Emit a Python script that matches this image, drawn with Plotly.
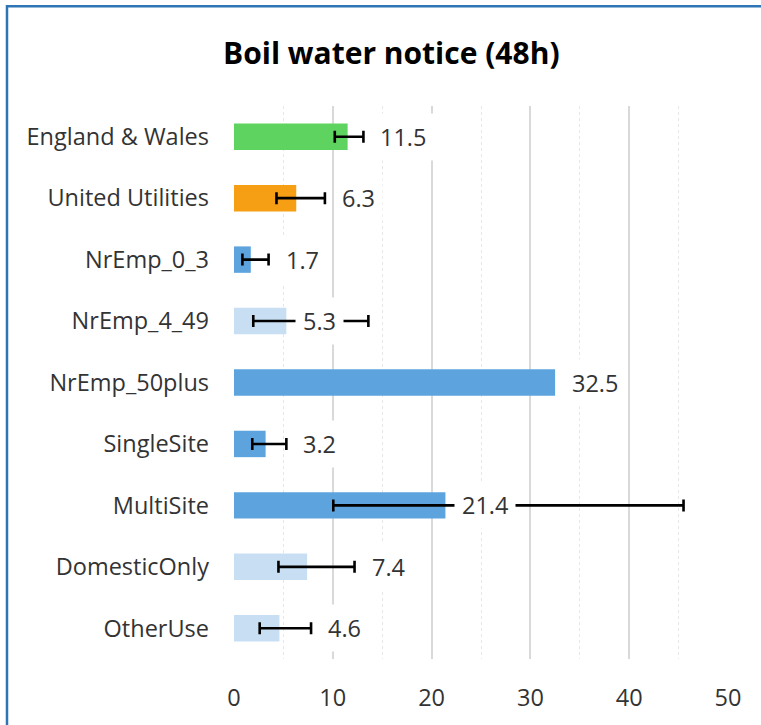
import plotly.graph_objects as go

categories = ["England & Wales", "United Utilities", "NrEmp_0_3", "NrEmp_4_49",
              "NrEmp_50plus", "SingleSite", "MultiSite", "DomesticOnly", "OtherUse"]
values = [11.5, 6.3, 1.7, 5.3, 32.5, 3.2, 21.4, 7.4, 4.6]
ci_lower = [10.2, 4.3, 0.85, 1.95, None, 1.85, 10.05, 4.5, 2.6]
ci_upper = [13.1, 9.2, 3.5, 13.6, None, 5.3, 45.5, 12.2, 7.8]
bar_colors = ["#5ED35F", "#F69E14", "#5DA4DE", "#C8DFF3", "#5DA4DE",
              "#5DA4DE", "#5DA4DE", "#C8DFF3", "#C8DFF3"]
x_ticks = [0, 10, 20, 30, 40, 50]

W, H = 761, 725
ML, MR, MT, MB = 234, 33, 106, 64
FONT = "Open Sans"
TXT = "#333333"
FS = 23.5

has_ci = [l is not None for l in ci_lower]

fig = go.Figure()
# bars with confidence intervals
idx_ci = [i for i, h in enumerate(has_ci) if h]
fig.add_trace(go.Bar(
    x=[values[i] for i in idx_ci], y=[categories[i] for i in idx_ci], orientation="h",
    marker=dict(color=[bar_colors[i] for i in idx_ci], line=dict(width=0)),
    width=0.43,
    error_x=dict(type="data", symmetric=False,
                 array=[ci_upper[i] - values[i] for i in idx_ci],
                 arrayminus=[values[i] - ci_lower[i] for i in idx_ci],
                 color="black", thickness=2.6, width=6),
    hoverinfo="x+y",
))
# bars without confidence intervals
idx_no = [i for i, h in enumerate(has_ci) if not h]
fig.add_trace(go.Bar(
    x=[values[i] for i in idx_no], y=[categories[i] for i in idx_no], orientation="h",
    marker=dict(color=[bar_colors[i] for i in idx_no], line=dict(width=0)),
    width=0.43, hoverinfo="x+y",
))

annotations = []
for c, v, u in zip(categories, values, ci_upper):
    anchor = u if (u is not None and (u - v) < 6) else v
    annotations.append(dict(
        x=anchor, y=c, xref="x", yref="y", text=f"{v:.1f}", showarrow=False,
        xanchor="left", yanchor="middle", xshift=9, bgcolor="white",
        font=dict(family=FONT, size=FS, color=TXT), borderpad=7,
    ))

pw, ph = W - ML - MR, H - MT - MB
def px_to_paper_x(px):
    return (px - ML) / pw
def py_to_paper_y(py):
    return 1 - (py - MT) / ph

annotations.append(dict(
    text="<b>Boil water notice (48h)</b>", xref="paper", yref="paper",
    x=px_to_paper_x(391), y=py_to_paper_y(52),
    xanchor="center", yanchor="middle", showarrow=False,
    font=dict(family=FONT, size=30, color="black"),
))

fig.update_layout(
    width=W, height=H,
    margin=dict(l=ML, r=MR, t=MT, b=MB, pad=0),
    paper_bgcolor="white", plot_bgcolor="white",
    showlegend=False, barmode="overlay",
    annotations=annotations,
    shapes=[dict(type="rect", xref="paper", yref="paper",
                 x0=px_to_paper_x(7), x1=px_to_paper_x(W + 20),
                 y0=py_to_paper_y(H + 20), y1=py_to_paper_y(6),
                 line=dict(color="#2E75B6", width=2.5), fillcolor="rgba(0,0,0,0)",
                 layer="below")],
    xaxis=dict(range=[0, 50], tickvals=x_ticks, ticktext=[str(t) for t in x_ticks],
               showgrid=True, gridcolor="#D9D9D9", gridwidth=1.5,
               minor=dict(dtick=5, showgrid=True, gridcolor="#E6E6E6", griddash="dot", gridwidth=1),
               zeroline=False, showline=False, ticks="",
               ticklabelstandoff=22,
               tickfont=dict(family=FONT, size=FS, color=TXT), fixedrange=True),
    yaxis=dict(categoryorder="array", categoryarray=categories, autorange="reversed",
               showgrid=False, zeroline=False, showline=False, ticks="",
               ticklabelstandoff=24,
               tickfont=dict(family=FONT, size=FS, color=TXT), fixedrange=True),
)

fig.write_html("out.html", config={"displayModeBar": False},
               post_script="document.body.style.margin='0';")
